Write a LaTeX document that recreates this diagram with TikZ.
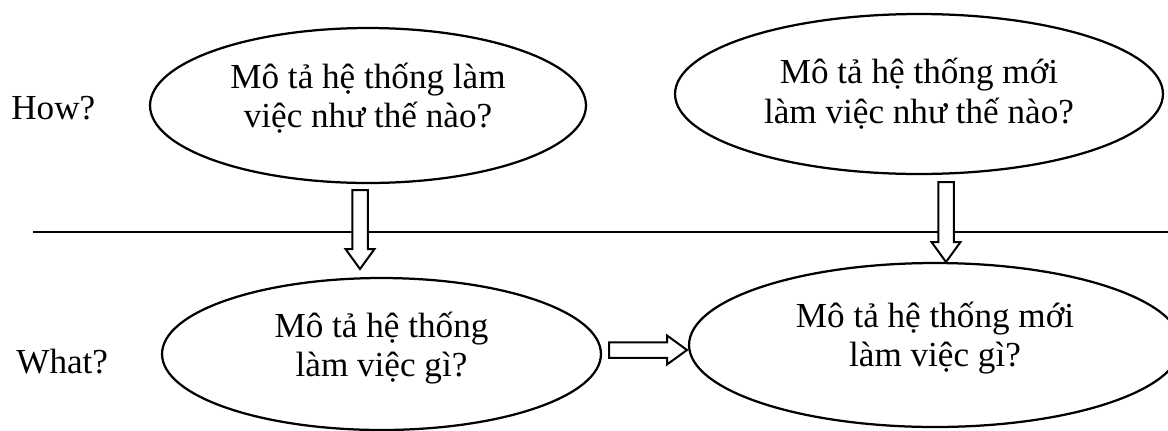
\documentclass[tikz,border=0pt]{standalone}
\usepackage{fontspec}
\setmainfont{Liberation Serif}
\usetikzlibrary{shapes.geometric,calc}

\tikzset{
  oval/.style={draw, ellipse, line width=0.045cm, inner sep=0pt},
  ovaltext/.style={align=center, inner sep=0pt, font=\fontsize{20}{22.5}\selectfont},
  sidelabel/.style={anchor=base west, inner sep=0pt, font=\fontsize{20}{22.5}\selectfont},
  blockline/.style={draw, line width=0.04cm, fill=white, line join=miter}
}

% hollow block arrow from #1 to #2
\newcommand{\hollowarrow}[2]{%
  \coordinate (hb) at ($(#2)!0.4cm!(#1)$);
  \draw[blockline] ($(#1)!0.155cm!90:(#2)$) -- ($(hb)!0.155cm!90:(#2)$)
    -- ($(hb)!0.29cm!90:(#2)$) -- (#2) -- ($(hb)!0.29cm!-90:(#2)$)
    -- ($(hb)!0.155cm!-90:(#2)$) -- ($(#1)!0.155cm!-90:(#2)$) -- cycle;
}

\begin{document}
\begin{tikzpicture}[x=0.02cm, y=-0.02cm]
\useasboundingbox (0,0) rectangle (1168,430);
\clip (0,0) rectangle (1168,430);

\draw[line width=0.04cm] (33,232) -- (1168,232);

\node[sidelabel] (howlabel) at (11,119) {How?};
\node[sidelabel] (whatlabel) at (16,373) {What?};

\node[oval, minimum width=8.72cm, minimum height=3.10cm,
  label={[ovaltext, yshift=0.15cm]center:Mô tả hệ thống làm\\việc như thế nào?}] (how1) at (368,105.5) {};
\node[oval, minimum width=9.76cm, minimum height=3.20cm,
  label={[ovaltext, yshift=0.01cm]center:Mô tả hệ thống mới\\làm việc như thế nào?}] (how2) at (919,94) {};
\node[oval, minimum width=8.78cm, minimum height=3.04cm,
  label={[ovaltext, yshift=0.12cm]center:Mô tả hệ thống\\làm việc gì?}] (what1) at (381.5,354) {};
\node[oval, minimum width=9.84cm, minimum height=3.28cm,
  label={[ovaltext, yshift=0.14cm]center:Mô tả hệ thống mới\\làm việc gì?}] (what2) at (935,345) {};

\coordinate (from1) at (360,190);
\coordinate (to1) at (360,269);
\coordinate (from2) at (946,182);
\coordinate (to2) at (946,262);
\coordinate (from3) at (609,350);
\coordinate (to3) at (687,350);

\hollowarrow{from1}{to1}
\hollowarrow{from2}{to2}
\hollowarrow{from3}{to3}
\end{tikzpicture}
\end{document}
